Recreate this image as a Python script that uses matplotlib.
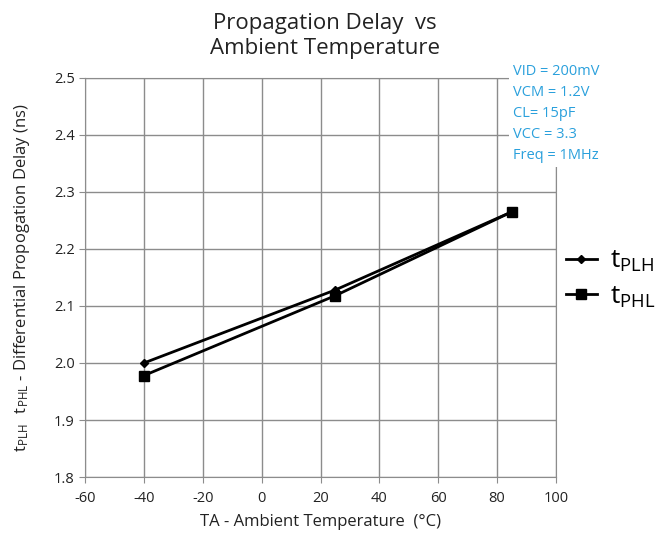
import matplotlib.pyplot as plt

# data
temps = [-40, 25, 85]
t_plh = [2.000, 2.128, 2.265]
t_phl = [1.978, 2.118, 2.265]
conditions = ["VID = 200mV", "VCM = 1.2V", "CL= 15pF", "VCC = 3.3", "Freq = 1MHz"]

plt.rcParams['font.family'] = ['Open Sans', 'DejaVu Sans']
plt.rcParams['axes.unicode_minus'] = False

fig = plt.figure(figsize=(6.65, 5.33), dpi=100)
ax = fig.add_axes([0.128, 0.105, 0.708, 0.749])

ax.plot(temps, t_plh, color='black', lw=2, marker='D', ms=4, label=r'$\mathregular{t_{PLH}}$')
ax.plot(temps, t_phl, color='black', lw=2, marker='s', ms=7, label=r'$\mathregular{t_{PHL}}$')

ax.set_xlim(-60, 100)
ax.set_ylim(1.8, 2.5)
ax.set_xticks(range(-60, 101, 20))
ax.set_yticks([1.8, 1.9, 2.0, 2.1, 2.2, 2.3, 2.4, 2.5])
ax.set_yticklabels(['%.1f' % v for v in ax.get_yticks()])
ax.grid(True, color='#8c8c8c', lw=1)
ax.set_axisbelow(True)
for s in ax.spines.values():
    s.set_color('#8c8c8c')
ax.tick_params(axis='both', colors='#8c8c8c', labelcolor='#222222', labelsize=10.5, length=4)
ax.tick_params(axis='x', pad=6)

ax.set_xlabel(u'TA - Ambient Temperature  (\u00b0C)', fontsize=12, color='#222222', labelpad=6)
ax.set_ylabel(r'$\mathregular{t_{PLH}\ \ t_{PHL}}$ - Differential Propogation Delay (ns)',
              fontsize=12, color='#222222', labelpad=16)
fig.text(0.488, 0.932, 'Propagation Delay  vs\nAmbient Temperature', ha='center', va='center',
         fontsize=16, color='#222222', linespacing=1.25)

# condition box covers the grid in the top right corner
fig.text(0.772, 0.88, '\n'.join(conditions), ha='left', va='top', fontsize=10.5,
         color='#2aa0dc', linespacing=1.55,
         bbox=dict(facecolor='white', edgecolor='none', pad=3), zorder=5)

leg = ax.legend(loc='center left', bbox_to_anchor=(0.97, 0.495), frameon=False,
                fontsize=19, handlelength=1.2, handletextpad=0.5, labelspacing=0.4)

fig.savefig('out.png', dpi=100)
